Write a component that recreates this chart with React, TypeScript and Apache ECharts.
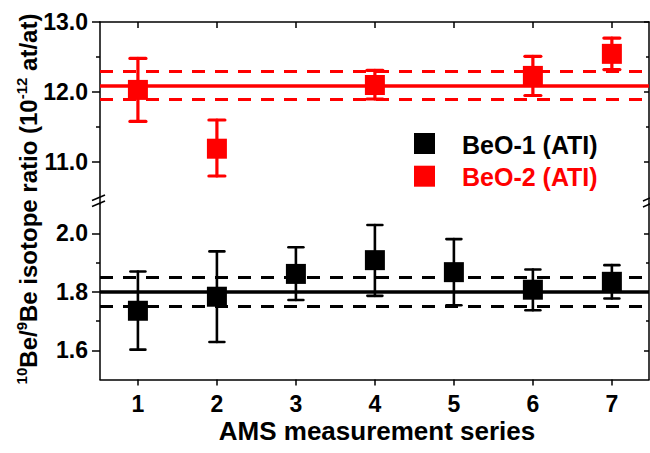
import React, { useEffect, useRef } from "react";
import * as echarts from "echarts";

// ---- data ----
const xTicks = [1, 2, 3, 4, 5, 6, 7];

const beo1Name = "BeO-1 (ATI)";
const beo1X = [1, 2, 3, 4, 5, 6, 7];
const beo1Value = [1.735, 1.783, 1.861, 1.908, 1.867, 1.807, 1.834];
const beo1Low = [1.602, 1.628, 1.772, 1.786, 1.754, 1.737, 1.777];
const beo1High = [1.869, 1.938, 1.952, 2.028, 1.98, 1.876, 1.891];
const beo1Mean = 1.8;
const beo1Band = [1.75, 1.85];

const beo2Name = "BeO-2 (ATI)";
const beo2X = [1, 2, 4, 6, 7];
const beo2Value = [12.03, 11.19, 12.1, 12.23, 12.545];
const beo2Low = [11.58, 10.8, 11.9, 11.95, 12.32];
const beo2High = [12.48, 11.6, 12.31, 12.51, 12.77];
const beo2Mean = 12.09;
const beo2Band = [11.9, 12.29];

const topMajor = [11, 12, 13];
const topMinor = [11.5, 12.5];
const botMajor = [1.6, 1.8, 2.0];
const botMinor = [1.7, 1.9];

const FONT = "'Liberation Sans', Arial, sans-serif";
const RED = "#ff0000";
const BLACK = "#000000";

function yAx(grid: number, min: number, max: number, pos: "left" | "right", ticks: number[], len: number, inside: boolean, line: boolean, labels: boolean) {
  return {
    type: "value",
    gridIndex: grid,
    min,
    max,
    position: pos,
    offset: 0,
    axisLine: { show: line, onZero: false, lineStyle: { color: BLACK, width: 1.5 } },
    axisTick: { show: true, inside, length: len, customValues: ticks, lineStyle: { color: BLACK, width: 1.5 } },
    axisLabel: labels
      ? { show: true, customValues: ticks, margin: 12, formatter: (v: number) => v.toFixed(1), color: BLACK, fontFamily: FONT, fontWeight: "bold", fontSize: 23 }
      : { show: false },
    splitLine: { show: false },
  };
}

function errorSeries(name: string, xs: number[], lo: number[], hi: number[], xi: number, yi: number, color: string, w: number, hw: number, mean: number, band: number[]) {
  return {
    type: "custom",
    name: name + " err",
    xAxisIndex: xi,
    yAxisIndex: yi,
    z: 2,
    encode: { x: 0, y: [1, 2] },
    data: xs.map((x, i) => [x, lo[i], hi[i]]),
    renderItem: (params: any, api: any) => {
      const x = api.value(0);
      const a = api.coord([x, api.value(1)]);
      const b = api.coord([x, api.value(2)]);
      const st = { stroke: color, lineWidth: w, lineCap: "round" };
      return {
        type: "group",
        children: [
          { type: "line", shape: { x1: a[0], y1: a[1], x2: b[0], y2: b[1] }, style: st },
          { type: "line", shape: { x1: a[0] - hw, y1: a[1], x2: a[0] + hw, y2: a[1] }, style: st },
          { type: "line", shape: { x1: b[0] - hw, y1: b[1], x2: b[0] + hw, y2: b[1] }, style: st },
        ],
      };
    },
    markLine: {
      silent: true,
      symbol: "none",
      label: { show: false },
      z: 1,
      data: [
        { yAxis: mean, lineStyle: { color, width: 3.5, type: "solid" } },
        { yAxis: band[0], lineStyle: { color, width: 3, type: [13, 10] } },
        { yAxis: band[1], lineStyle: { color, width: 3, type: [13, 10] } },
      ],
    },
  };
}

export default function App() {
  const ref = useRef<HTMLDivElement>(null);
  useEffect(() => {
    if (!ref.current) return;
    const chart = echarts.init(ref.current, undefined, { renderer: "svg" });
    const xMin = 0.52;
    const xMax = 7.47;
    const option: any = {
      animation: false,
      backgroundColor: "#ffffff",
      grid: [
        { left: 100, right: 1, top: 22, height: 182 },
        { left: 100, right: 1, top: 204, height: 175.5 },
      ],
      xAxis: [
        {
          type: "value", gridIndex: 0, min: xMin, max: xMax, position: "top",
          axisLine: { show: true, onZero: false, lineStyle: { color: BLACK, width: 1.5 } },
          axisTick: { show: true, inside: true, length: 6, customValues: xTicks, lineStyle: { color: BLACK, width: 1.5 } },
          axisLabel: { show: false },
          splitLine: { show: false },
        },
        {
          type: "value", gridIndex: 1, min: xMin, max: xMax, position: "bottom",
          axisLine: { show: true, onZero: false, lineStyle: { color: BLACK, width: 1.5 } },
          axisTick: { show: true, inside: false, length: 6, customValues: xTicks, lineStyle: { color: BLACK, width: 1.5 } },
          axisLabel: { show: true, customValues: xTicks, margin: 13, color: BLACK, fontFamily: FONT, fontWeight: "bold", fontSize: 23 },
          splitLine: { show: false },
        },
      ],
      yAxis: [
        yAx(0, 10.4, 13, "left", topMajor, 8, false, true, true),
        yAx(0, 10.4, 13, "left", topMinor, 4, false, false, false),
        yAx(0, 10.4, 13, "right", topMajor, 5, true, true, false),
        yAx(0, 10.4, 13, "right", topMinor, 3, true, false, false),
        yAx(1, 1.5, 2.1, "left", botMajor, 8, false, true, true),
        yAx(1, 1.5, 2.1, "left", botMinor, 4, false, false, false),
        yAx(1, 1.5, 2.1, "right", botMajor, 5, true, true, false),
        yAx(1, 1.5, 2.1, "right", botMinor, 3, true, false, false),
      ],
      series: [
        errorSeries(beo2Name, beo2X, beo2Low, beo2High, 0, 0, RED, 3.2, 8, beo2Mean, beo2Band),
        {
          type: "scatter", name: beo2Name, xAxisIndex: 0, yAxisIndex: 0, z: 5,
          symbol: "rect", symbolSize: 20, itemStyle: { color: RED, opacity: 1 },
          data: beo2X.map((x, i) => [x, beo2Value[i]]),
        },
        errorSeries(beo1Name, beo1X, beo1Low, beo1High, 1, 4, BLACK, 2.6, 7.5, beo1Mean, beo1Band),
        {
          type: "scatter", name: beo1Name, xAxisIndex: 1, yAxisIndex: 4, z: 5,
          symbol: "rect", symbolSize: 20, itemStyle: { color: BLACK, opacity: 1 },
          data: beo1X.map((x, i) => [x, beo1Value[i]]),
        },
      ],
      graphic: [
        // axis break marks
        { type: "line", shape: { x1: 92, y1: 200.5, x2: 105, y2: 195 }, style: { stroke: BLACK, lineWidth: 1.5 } },
        { type: "line", shape: { x1: 92, y1: 206.5, x2: 105, y2: 201 }, style: { stroke: BLACK, lineWidth: 1.5 } },
        { type: "line", shape: { x1: 643, y1: 201, x2: 650, y2: 198 }, style: { stroke: BLACK, lineWidth: 1.5 } },
        { type: "line", shape: { x1: 643, y1: 207, x2: 650, y2: 204 }, style: { stroke: BLACK, lineWidth: 1.5 } },
        // legend
        { type: "rect", shape: { x: 414, y: 133, width: 21, height: 21 }, style: { fill: BLACK } },
        { type: "text", x: 462, y: 144.5, style: { text: beo1Name, fill: BLACK, font: "bold 25px " + FONT, verticalAlign: "middle", align: "left" } },
        { type: "rect", shape: { x: 414, y: 165.7, width: 21, height: 21 }, style: { fill: RED } },
        { type: "text", x: 462, y: 177, style: { text: beo2Name, fill: RED, font: "bold 25px " + FONT, verticalAlign: "middle", align: "left" } },
        // axis titles
        { type: "text", x: 377, y: 431, style: { text: "AMS measurement series", fill: BLACK, font: "bold 26px " + FONT, align: "center", verticalAlign: "middle" } },
        {
          type: "text", x: 27, y: 199, rotation: Math.PI / 2,
          style: {
            text: "{s|10}{m|Be/}{s|9}{m|Be isotope ratio (10}{s|-12}{m| at/at)}",
            align: "center", verticalAlign: "middle", fill: BLACK,
            rich: {
              m: { fontFamily: FONT, fontWeight: "bold", fontSize: 24, lineHeight: 26, fill: BLACK, verticalAlign: "bottom" },
              s: { fontFamily: FONT, fontWeight: "bold", fontSize: 15, lineHeight: 15, fill: BLACK, verticalAlign: "top" },
            },
          },
        },
      ],
    };
    chart.setOption(option);
    return () => chart.dispose();
  }, []);
  return <div ref={ref} style={{ width: 650, height: 453, position: "absolute", left: 0, top: 0 }} />;
}
